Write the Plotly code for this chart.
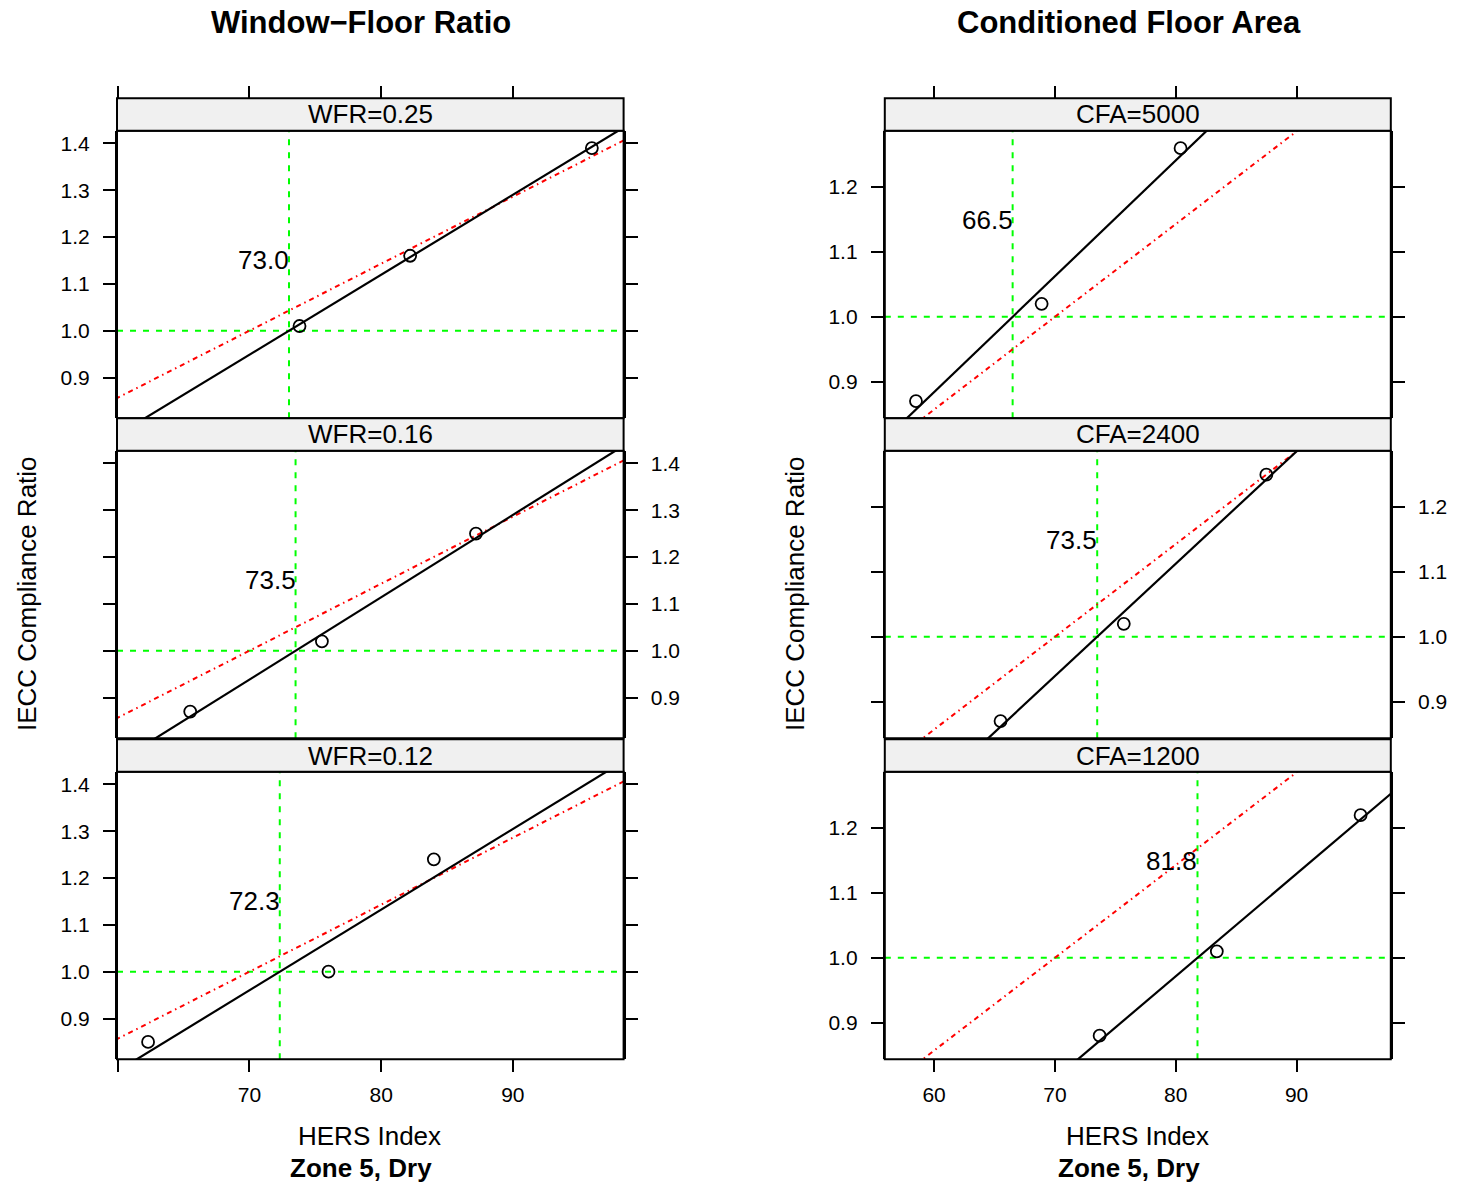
import numpy as np
import plotly.graph_objects as go

# ---------------- data ----------------
wfr_panels = ["WFR=0.25", "WFR=0.16", "WFR=0.12"]
wfr_hers = [[73.8, 82.2, 96.0], [65.5, 75.5, 87.2], [62.3, 76.0, 84.0]]
wfr_ratio = [[1.01, 1.16, 1.39], [0.87, 1.02, 1.25], [0.85, 1.00, 1.24]]
wfr_cross = [73.0, 73.5, 72.3]

cfa_panels = ["CFA=5000", "CFA=2400", "CFA=1200"]
cfa_hers = [[58.5, 68.9, 80.4], [65.5, 75.7, 87.5], [73.7, 83.4, 95.3]]
cfa_ratio = [[0.87, 1.02, 1.26], [0.87, 1.02, 1.25], [0.88, 1.01, 1.22]]
cfa_cross = [66.5, 73.5, 81.8]

# reference (red dash-dot) line end points
ref_hers = [50.0, 100.0]
ref_ratio = [0.714, 1.429]

titles = ["Window\u2212Floor Ratio", "Conditioned Floor Area"]
x_title = "HERS Index"
y_title = "IECC Compliance Ratio"
sub_title = "Zone 5, Dry"

left_yticks = [0.9, 1.0, 1.1, 1.2, 1.3, 1.4]
right_yticks = [0.9, 1.0, 1.1, 1.2]
xticks = [60, 70, 80, 90]
left_xticktext = ["", "70", "80", "90"]
right_xticktext = ["60", "70", "80", "90"]

# ---------------- layout geometry ----------------
W, H = 1459, 1188
FONT = "Liberation Sans, Arial, Helvetica, sans-serif"
BASE = 26
TICK = 21


def fx(p):
    return p / W


def fy(p):
    return 1 - p / H


rows_px = [(130.7, 418.3), (450.7, 738.3), (771.7, 1059.3)]
strip_h = 32.4

cols = [
    dict(x0=117.0, x1=623.6, xr=[59.94, 98.41], yr=[0.813, 1.427],
         yticks=left_yticks, xtt=left_xticktext,
         panels=wfr_panels, hers=wfr_hers, ratio=wfr_ratio, cross=wfr_cross,
         title=titles[0], tcx=360.5, xtcx=369.5, ytx=27),
    dict(x0=884.8, x1=1390.8, xr=[55.92, 97.8], yr=[0.8435, 1.287],
         yticks=right_yticks, xtt=right_xticktext,
         panels=cfa_panels, hers=cfa_hers, ratio=cfa_ratio, cross=cfa_cross,
         title=titles[1], tcx=1128.5, xtcx=1137.5, ytx=795),
]

fig = go.Figure()
layout = dict(
    width=W, height=H,
    margin=dict(l=0, r=0, t=0, b=0),
    paper_bgcolor="white", plot_bgcolor="white",
    showlegend=False,
    font=dict(family=FONT, color="black", size=TICK),
)
shapes = []
annotations = []

green = "#00FF00"
red = "#FF0000"

idx = 0
for c, col in enumerate(cols):
    for r in range(3):
        idx += 1
        xa = "xaxis" if idx == 1 else f"xaxis{idx}"
        ya = "yaxis" if idx == 1 else f"yaxis{idx}"
        xr_ = "x" if idx == 1 else f"x{idx}"
        yr_ = "y" if idx == 1 else f"y{idx}"
        top, bot = rows_px[r]

        xaxis = dict(domain=[fx(col["x0"]), fx(col["x1"])], range=col["xr"],
                     showgrid=False, zeroline=False, showline=False,
                     anchor=yr_, fixedrange=True)
        if r == 2:
            xaxis.update(ticks="outside", ticklen=12, tickwidth=2, tickcolor="black",
                         tickvals=xticks, ticktext=col["xtt"], showticklabels=True,
                         tickfont=dict(size=TICK, family=FONT, color="black"),
                         ticklabelstandoff=4)
        elif r == 0:
            xaxis.update(anchor="free", position=fy(top - strip_h), side="top",
                         ticks="outside", ticklen=12, tickwidth=2, tickcolor="black",
                         tickvals=xticks, showticklabels=False)
        else:
            xaxis.update(ticks="", showticklabels=False)

        yaxis = dict(domain=[fy(bot), fy(top)], range=col["yr"],
                     showgrid=False, zeroline=False, showline=True,
                     linecolor="black", linewidth=2, mirror="ticks",
                     ticks="outside", ticklen=12, tickwidth=2, tickcolor="black",
                     tickvals=col["yticks"],
                     ticktext=[f"{v:.1f}" for v in col["yticks"]],
                     side="right" if r == 1 else "left",
                     tickfont=dict(size=TICK, family=FONT, color="black"),
                     ticklabelstandoff=9,
                     anchor=xr_, fixedrange=True)
        layout[xa] = xaxis
        layout[ya] = yaxis

        hx = col["hers"][r]
        hy = col["ratio"][r]
        cross = col["cross"][r]
        slope = np.polyfit(hx, hy, 1)[0]
        xr0, xr1 = col["xr"]

        # guide lines (green dashed)
        fig.add_trace(go.Scatter(x=[xr0, xr1], y=[1.0, 1.0], mode="lines",
                                 line=dict(color=green, width=2, dash="6px,7px"),
                                 xaxis=xr_, yaxis=yr_, hoverinfo="skip"))
        fig.add_trace(go.Scatter(x=[cross, cross], y=col["yr"], mode="lines",
                                 line=dict(color=green, width=2, dash="6px,7px"),
                                 xaxis=xr_, yaxis=yr_, hoverinfo="skip"))
        # reference line (red dash-dot)
        fig.add_trace(go.Scatter(x=ref_hers, y=ref_ratio, mode="lines",
                                 line=dict(color=red, width=2, dash="5px,4px,1.5px,4px"),
                                 xaxis=xr_, yaxis=yr_, hoverinfo="skip"))
        # fitted line (black)
        lx = [xr0, xr1]
        ly = [1.0 + slope * (v - cross) for v in lx]
        fig.add_trace(go.Scatter(x=lx, y=ly, mode="lines",
                                 line=dict(color="black", width=2.2),
                                 xaxis=xr_, yaxis=yr_, hoverinfo="skip"))
        # points
        fig.add_trace(go.Scatter(x=hx, y=hy, mode="markers",
                                 marker=dict(symbol="circle-open", size=12,
                                             color="black", line=dict(width=1.8, color="black")),
                                 xaxis=xr_, yaxis=yr_))
        # crossing label
        annotations.append(dict(x=cross, y=1.15, xref=xr_, yref=yr_,
                                text=f"{cross:.1f}", showarrow=False,
                                xanchor="right", yanchor="middle", xshift=2,
                                font=dict(size=BASE, family=FONT, color="black")))

        # panel frame
        shapes.append(dict(type="rect", xref="paper", yref="paper",
                           x0=fx(col["x0"]), x1=fx(col["x1"]), y0=fy(bot), y1=fy(top),
                           line=dict(color="black", width=2), fillcolor="rgba(0,0,0,0)",
                           layer="above"))
        # strip
        shapes.append(dict(type="rect", xref="paper", yref="paper",
                           x0=fx(col["x0"]), x1=fx(col["x1"]),
                           y0=fy(top), y1=fy(top - strip_h),
                           line=dict(color="black", width=2), fillcolor="#F0F0F0",
                           layer="above"))
        annotations.append(dict(x=fx((col["x0"] + col["x1"]) / 2), y=fy(top - strip_h / 2),
                                xref="paper", yref="paper", text=col["panels"][r],
                                showarrow=False, xanchor="center", yanchor="middle",
                                font=dict(size=BASE, family=FONT, color="black")))

    # column titles
    annotations.append(dict(x=fx(col["tcx"]), y=fy(23), xref="paper", yref="paper",
                            text=f"<b>{col['title']}</b>", showarrow=False,
                            xanchor="center", yanchor="middle",
                            font=dict(size=31, family=FONT, color="black")))
    annotations.append(dict(x=fx(col["xtcx"]), y=fy(1136), xref="paper", yref="paper",
                            text=x_title, showarrow=False,
                            xanchor="center", yanchor="middle",
                            font=dict(size=BASE, family=FONT, color="black")))
    annotations.append(dict(x=fx(col["tcx"]), y=fy(1168), xref="paper", yref="paper",
                            text=f"<b>{sub_title}</b>", showarrow=False,
                            xanchor="center", yanchor="middle",
                            font=dict(size=BASE, family=FONT, color="black")))
    annotations.append(dict(x=fx(col["ytx"]), y=fy(594), xref="paper", yref="paper",
                            text=y_title, showarrow=False, textangle=-90,
                            xanchor="center", yanchor="middle",
                            font=dict(size=BASE, family=FONT, color="black")))

layout["shapes"] = shapes
layout["annotations"] = annotations
fig.update_layout(**layout)

fig.write_html("out.html", include_plotlyjs=True,
               config={"displayModeBar": False, "staticPlot": True},
               post_script="document.body.style.margin='0';document.body.style.overflow='hidden';")
